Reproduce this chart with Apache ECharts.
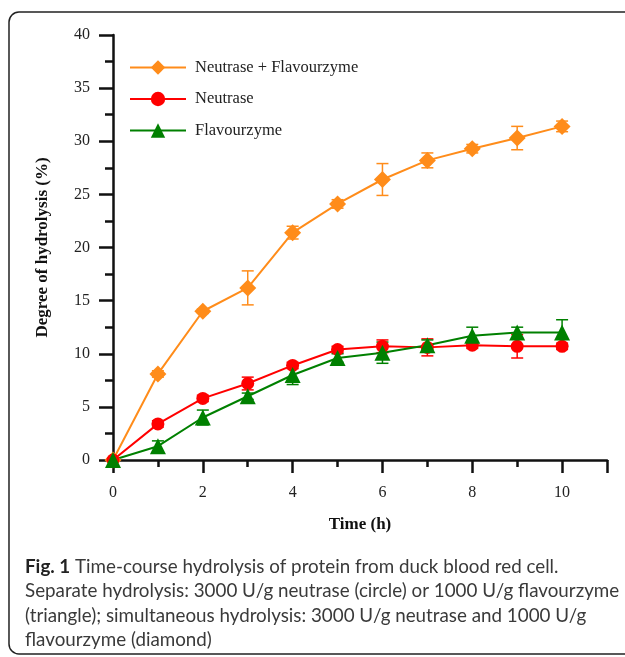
<!DOCTYPE html>
<html>
<head>
<meta charset="utf-8">
<style>
  html, body { margin: 0; padding: 0; background: #fff; }
  #chart { width: 625px; height: 657px; }
</style>
<script src="https://cdn.jsdelivr.net/npm/echarts@6/dist/echarts.min.js"></script>
</head>
<body>
<div id="chart"></div>
<script>
// time points (h)
const hours = [0, 1, 2, 3, 4, 5, 6, 7, 8, 9, 10];

// degree of hydrolysis (%) and error bars
const comboValues = [0, 8.1, 14.0, 16.2, 21.4, 24.1, 26.4, 28.2, 29.3, 30.3, 31.4];
const comboErrors = [0, 0.3, 0.2, 1.6, 0.6, 0.4, 1.5, 0.7, 0.4, 1.1, 0.5];
const neutraseValues = [0, 3.4, 5.8, 7.2, 8.9, 10.4, 10.7, 10.6, 10.8, 10.7, 10.7];
const neutraseErrors = [0, 0.3, 0.3, 0.6, 0.3, 0.3, 0.6, 0.8, 0.3, 1.1, 0.3];
const flavourValues = [0, 1.3, 4.0, 6.0, 8.0, 9.6, 10.1, 10.8, 11.7, 12.0, 12.0];
const flavourErrors = [0, 0.5, 0.7, 0.3, 0.9, 0.4, 1.0, 0.5, 0.8, 0.5, 1.2];

const seriesNames = ['Neutrase + Flavourzyme', 'Neutrase', 'Flavourzyme'];
const colors = ['#ff8c1a', '#ff0000', '#008000'];

const captionLines = [
  '{b|Fig. 1} Time-course hydrolysis of protein from duck blood red cell.',
  'Separate hydrolysis: 3000 U/g neutrase (circle) or 1000 U/g flavourzyme',
  '(triangle); simultaneous hydrolysis: 3000 U/g neutrase and 1000 U/g',
  'flavourzyme (diamond)'
];

const serif = '"Liberation Serif", "DejaVu Serif", serif';
const captionFont = '18.8px Lato, "Open Sans", sans-serif';

function pairs(values) {
  return hours.map((h, i) => [h, values[i]]);
}

function errorRows(values, errors) {
  return hours.map((h, i) => [h, values[i] - errors[i], values[i] + errors[i]]);
}

// draws a vertical error bar with caps
function errorBar(color) {
  return function (params, api) {
    const x = api.value(0);
    const lo = api.coord([x, api.value(1)]);
    const hi = api.coord([x, api.value(2)]);
    if (Math.abs(lo[1] - hi[1]) < 0.5) return null;
    const half = 6;
    const style = { stroke: color, lineWidth: 1.5 };
    return {
      type: 'group',
      children: [
        { type: 'line', shape: { x1: lo[0], y1: lo[1], x2: hi[0], y2: hi[1] }, style },
        { type: 'line', shape: { x1: lo[0] - half, y1: lo[1], x2: lo[0] + half, y2: lo[1] }, style },
        { type: 'line', shape: { x1: hi[0] - half, y1: hi[1], x2: hi[0] + half, y2: hi[1] }, style }
      ]
    };
  };
}

const chart = echarts.init(document.getElementById('chart'));

const lineSeries = [
  { values: comboValues, symbol: 'diamond', size: 17 },
  { values: neutraseValues, symbol: 'circle', size: 13 },
  { values: flavourValues, symbol: 'triangle', size: 16 }
].map((s, i) => ({
  name: seriesNames[i],
  type: 'line',
  data: pairs(s.values),
  symbol: s.symbol,
  symbolSize: s.size,
  showAllSymbol: true,
  z: 3,
  lineStyle: { color: colors[i], width: 2 },
  itemStyle: { color: colors[i] }
}));

const errSeries = [
  errorRows(comboValues, comboErrors),
  errorRows(neutraseValues, neutraseErrors),
  errorRows(flavourValues, flavourErrors)
].map((rows, i) => ({
  type: 'custom',
  renderItem: errorBar(colors[i]),
  data: rows,
  z: 2,
  silent: true
}));

const captionGraphics = captionLines.map((line, i) => ({
  type: 'text',
  left: 25,
  top: 557 + i * 24.5,
  style: {
    text: line,
    font: captionFont,
    fill: '#3a3a3a',
    rich: {
      b: { font: 'bold 18.8px Lato, "Open Sans", sans-serif', fill: '#222' }
    }
  }
}));

chart.setOption({
  animation: false,
  backgroundColor: '#fff',
  grid: { left: 113, right: 18, top: 35, bottom: 197 },
  legend: {
    data: seriesNames,
    orient: 'vertical',
    left: 124,
    top: 54,
    itemWidth: 56,
    itemHeight: 18,
    itemGap: 14.5,
    textStyle: { fontFamily: serif, fontSize: 16.5, color: '#222', padding: [0, 0, 0, 4] }
  },
  xAxis: {
    type: 'value',
    min: 0,
    max: 11,
    interval: 2,
    name: 'Time (h)',
    nameLocation: 'middle',
    nameGap: 56,
    nameTextStyle: { fontFamily: serif, fontSize: 17, fontWeight: 'bold', color: '#111' },
    axisLine: { lineStyle: { color: '#111', width: 2.5 } },
    axisTick: { length: 13, lineStyle: { color: '#111', width: 2.5 } },
    minorTick: { show: true, splitNumber: 2, length: 7, lineStyle: { color: '#111', width: 2.5 } },
    axisLabel: {
      fontFamily: serif, fontSize: 16, color: '#222', margin: 25,
      formatter: v => (v <= 10 ? String(v) : '')
    },
    splitLine: { show: false }
  },
  yAxis: {
    type: 'value',
    min: 0,
    max: 40,
    interval: 5,
    name: 'Degree of hydrolysis (%)',
    nameLocation: 'middle',
    nameGap: 62,
    nameTextStyle: { fontFamily: serif, fontSize: 17, fontWeight: 'bold', color: '#111' },
    axisLine: { show: true, lineStyle: { color: '#111', width: 2.5 } },
    axisTick: { show: true, length: 14, lineStyle: { color: '#111', width: 2.5 } },
    minorTick: { show: true, splitNumber: 2, length: 8, lineStyle: { color: '#111', width: 2.5 } },
    axisLabel: { fontFamily: serif, fontSize: 16, color: '#222', margin: 23 },
    splitLine: { show: false }
  },
  graphic: [
    {
      type: 'rect',
      shape: { x: 9, y: 12, width: 700, height: 642, r: 10 },
      style: { fill: 'none', stroke: '#222', lineWidth: 1.5 },
      silent: true
    },
    ...captionGraphics
  ],
  series: [...errSeries, ...lineSeries]
});
</script>
</body>
</html>
